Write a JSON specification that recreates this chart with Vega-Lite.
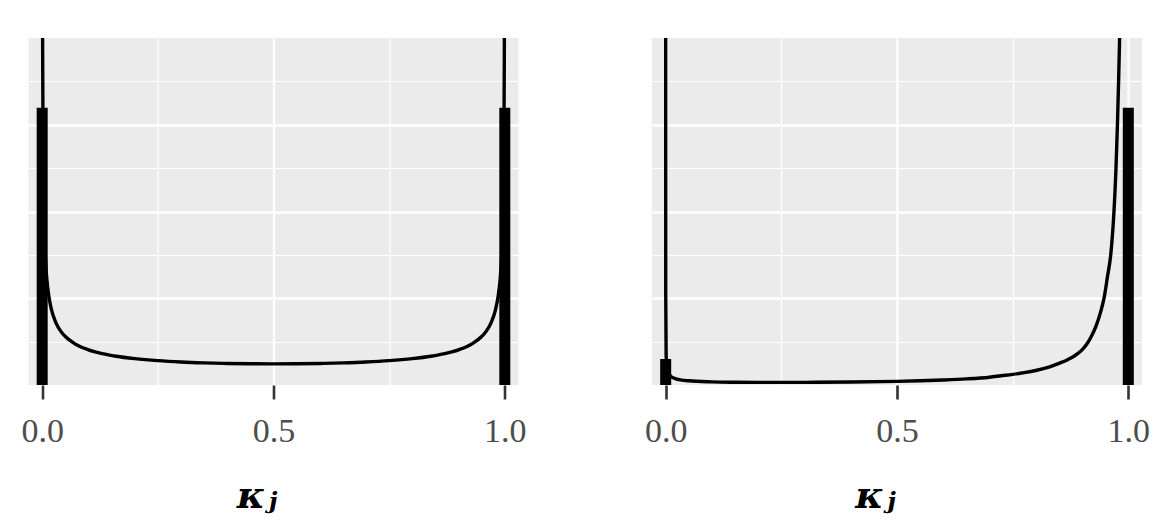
{
  "$schema": "https://vega.github.io/schema/vega-lite/v6.json",
  "background": "white",
  "padding": {"left": 20.5, "top": 38, "right": 0, "bottom": 0},
  "spacing": 117.5,
  "datasets": {
    "curve1": [
      {"k": 0, "d": 1000}, {"k": 0.00001, "d": 77}, {"k": 0.0001, "d": 24.35}, {"k": 0.0005, "d": 10.9},
      {"k": 0.001, "d": 7.7}, {"k": 0.002, "d": 5.45}, {"k": 0.004, "d": 3.86}, {"k": 0.007, "d": 2.92},
      {"k": 0.01, "d": 2.447}, {"k": 0.015, "d": 2.003}, {"k": 0.02, "d": 1.739}, {"k": 0.03, "d": 1.427},
      {"k": 0.04, "d": 1.242}, {"k": 0.05, "d": 1.117}, {"k": 0.07, "d": 0.954}, {"k": 0.1, "d": 0.812},
      {"k": 0.13, "d": 0.724}, {"k": 0.16, "d": 0.664}, {"k": 0.2, "d": 0.609}, {"k": 0.25, "d": 0.562},
      {"k": 0.3, "d": 0.531}, {"k": 0.35, "d": 0.5105}, {"k": 0.4, "d": 0.497}, {"k": 0.45, "d": 0.4894},
      {"k": 0.5, "d": 0.487}, {"k": 0.55, "d": 0.4894}, {"k": 0.6, "d": 0.497}, {"k": 0.65, "d": 0.5105},
      {"k": 0.7, "d": 0.531}, {"k": 0.75, "d": 0.562}, {"k": 0.8, "d": 0.609}, {"k": 0.84, "d": 0.664},
      {"k": 0.87, "d": 0.724}, {"k": 0.9, "d": 0.812}, {"k": 0.93, "d": 0.954}, {"k": 0.95, "d": 1.117},
      {"k": 0.96, "d": 1.242}, {"k": 0.97, "d": 1.427}, {"k": 0.98, "d": 1.739}, {"k": 0.985, "d": 2.003},
      {"k": 0.99, "d": 2.447}, {"k": 0.993, "d": 2.92}, {"k": 0.996, "d": 3.86}, {"k": 0.998, "d": 5.45},
      {"k": 0.999, "d": 7.7}, {"k": 0.9995, "d": 10.9}, {"k": 0.9999, "d": 24.35}, {"k": 0.99999, "d": 77},
      {"k": 1, "d": 1000}
    ],
    "curve2": [
      {"k": 0, "d": 1000}, {"k": 0.000001, "d": 21}, {"k": 0.00001, "d": 6.6}, {"k": 0.0001, "d": 2.1},
      {"k": 0.001, "d": 0.664}, {"k": 0.003, "d": 0.384}, {"k": 0.01, "d": 0.21}, {"k": 0.02, "d": 0.148},
      {"k": 0.05, "d": 0.097}, {"k": 0.1, "d": 0.073}, {"k": 0.15, "d": 0.064}, {"k": 0.2, "d": 0.06},
      {"k": 0.3, "d": 0.061}, {"k": 0.4, "d": 0.069}, {"k": 0.5, "d": 0.084}, {"k": 0.55, "d": 0.097},
      {"k": 0.6, "d": 0.115}, {"k": 0.65, "d": 0.14}, {"k": 0.7, "d": 0.18}, {"k": 0.725, "d": 0.213},
      {"k": 0.75, "d": 0.245}, {"k": 0.775, "d": 0.285}, {"k": 0.8, "d": 0.335}, {"k": 0.83, "d": 0.42},
      {"k": 0.85, "d": 0.5}, {"k": 0.87, "d": 0.59}, {"k": 0.885, "d": 0.68}, {"k": 0.9, "d": 0.81},
      {"k": 0.91, "d": 0.94}, {"k": 0.92, "d": 1.12}, {"k": 0.93, "d": 1.35}, {"k": 0.94, "d": 1.68},
      {"k": 0.9475, "d": 2.0}, {"k": 0.955, "d": 2.5}, {"k": 0.962, "d": 3.0},
      {"k": 0.969, "d": 4.0}, {"k": 0.9734, "d": 5.0}, {"k": 0.9765, "d": 6.0}, {"k": 0.979, "d": 7.0},
      {"k": 0.9812, "d": 8.0}, {"k": 0.985, "d": 10.5}, {"k": 0.99, "d": 17}, {"k": 0.995, "d": 40},
      {"k": 1, "d": 1000}
    ],
    "bars1": [{"k": 0, "h": 6.39}, {"k": 1, "h": 6.39}],
    "bars2": [{"k": 0, "h": 0.6}, {"k": 1, "h": 6.39}]
  },
  "hconcat": [
    {
      "width": 490,
      "height": 347,
      "layer": [
        {
          "data": {"name": "bars1"},
          "mark": {"type": "bar", "size": 11, "color": "black"},
          "encoding": {
            "x": {"field": "k", "type": "quantitative"},
            "y": {"field": "h", "type": "quantitative"}
          }
        },
        {
          "data": {"name": "curve1"},
          "mark": {"type": "line", "color": "black", "strokeWidth": 3.4, "clip": true, "interpolate": "monotone"},
          "encoding": {
            "x": {"field": "k", "type": "quantitative"},
            "y": {"field": "d", "type": "quantitative"}
          }
        }
      ],
      "encoding": {
        "x": {
          "field": "k", "type": "quantitative",
          "scale": {"domain": [-0.0296, 1.0296], "nice": false, "zero": false, "padding": 0},
          "axis": {
            "values": [0, 0.25, 0.5, 0.75, 1],
            "labelExpr": "(datum.value == 0.25 || datum.value == 0.75) ? '' : format(datum.value, '.1f')",
            "tickOpacity": {"condition": {"test": "datum.value == 0.25 || datum.value == 0.75", "value": 0}, "value": 1},
            "gridWidth": {"condition": {"test": "datum.value == 0.25 || datum.value == 0.75", "value": 1.2}, "value": 2.3},
            "title": "κⱼ",
            "titleX": 228,
            "titleY": 122
          }
        },
        "y": {
          "field": "d", "type": "quantitative",
          "scale": {"domain": [0, 8], "nice": false},
          "axis": {
            "values": [1, 2, 3, 4, 5, 6, 7],
            "labels": false, "ticks": false, "domain": false, "title": null,
            "gridWidth": {"condition": {"test": "datum.value % 2 == 0", "value": 2.3}, "value": 1.2}
          }
        }
      }
    },
    {
      "width": 490,
      "height": 347,
      "layer": [
        {
          "data": {"name": "bars2"},
          "mark": {"type": "bar", "size": 11, "color": "black"},
          "encoding": {
            "x": {"field": "k", "type": "quantitative"},
            "y": {"field": "h", "type": "quantitative"}
          }
        },
        {
          "data": {"name": "curve2"},
          "mark": {"type": "line", "color": "black", "strokeWidth": 3.4, "clip": true, "interpolate": "monotone"},
          "encoding": {
            "x": {"field": "k", "type": "quantitative"},
            "y": {"field": "d", "type": "quantitative"}
          }
        }
      ],
      "encoding": {
        "x": {
          "field": "k", "type": "quantitative",
          "scale": {"domain": [-0.0296, 1.0296], "nice": false, "zero": false, "padding": 0},
          "axis": {
            "values": [0, 0.25, 0.5, 0.75, 1],
            "labelExpr": "(datum.value == 0.25 || datum.value == 0.75) ? '' : format(datum.value, '.1f')",
            "tickOpacity": {"condition": {"test": "datum.value == 0.25 || datum.value == 0.75", "value": 0}, "value": 1},
            "gridWidth": {"condition": {"test": "datum.value == 0.25 || datum.value == 0.75", "value": 1.2}, "value": 2.3},
            "title": "κⱼ",
            "titleX": 223,
            "titleY": 122
          }
        },
        "y": {
          "field": "d", "type": "quantitative",
          "scale": {"domain": [0, 8], "nice": false},
          "axis": {
            "values": [1, 2, 3, 4, 5, 6, 7],
            "labels": false, "ticks": false, "domain": false, "title": null,
            "gridWidth": {"condition": {"test": "datum.value % 2 == 0", "value": 2.3}, "value": 1.2}
          }
        }
      }
    }
  ],
  "config": {
    "view": {"fill": "#EBEBEB", "stroke": null},
    "axis": {
      "gridColor": "#FFFFFF",
      "gridOpacity": 1,
      "domain": false,
      "tickColor": "#333333",
      "tickWidth": 2.6,
      "tickSize": 14,
      "labelFont": "Liberation Serif",
      "labelFontSize": 34,
      "labelColor": "#4D4D4D",
      "labelPadding": 15,
      "labelFlush": false,
      "labelOverlap": false,
      "titleFont": "DejaVu Serif",
      "titleFontSize": 38,
      "titleFontStyle": "italic",
      "titleFontWeight": "bold",
      "titleColor": "#000000",
      "titleBaseline": "alphabetic",
      "titleAlign": "center",
      "titlePadding": 0
    }
  }
}
